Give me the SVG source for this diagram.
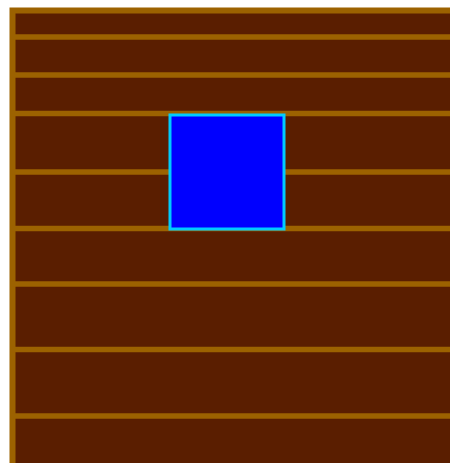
<svg xmlns="http://www.w3.org/2000/svg" width="450" height="463" viewBox="0 0 450 463">
<style>
.bg{fill:#5a1e00;stroke:#9c6200;stroke-width:6}
.ln{stroke:#9c6200;stroke-width:5.5}
.sq{fill:#0000ff;stroke:#00ccff;stroke-width:3}
</style>
<rect width="450" height="463" fill="#ffffff"/>
<rect class="bg" x="12.5" y="10.5" width="445" height="460"/>
<g id="lines">
<line class="ln" x1="12" y1="37" x2="450" y2="37"/>
<line class="ln" x1="12" y1="75" x2="450" y2="75"/>
<line class="ln" x1="12" y1="113.5" x2="450" y2="113.5"/>
<line class="ln" x1="12" y1="172" x2="450" y2="172"/>
<line class="ln" x1="12" y1="228.5" x2="450" y2="228.5"/>
<line class="ln" x1="12" y1="284" x2="450" y2="284"/>
<line class="ln" x1="12" y1="349.5" x2="450" y2="349.5"/>
<line class="ln" x1="12" y1="416" x2="450" y2="416"/>
</g>
<g id="square">
<rect class="sq" x="170" y="115" width="114" height="114"/>
</g>
</svg>
